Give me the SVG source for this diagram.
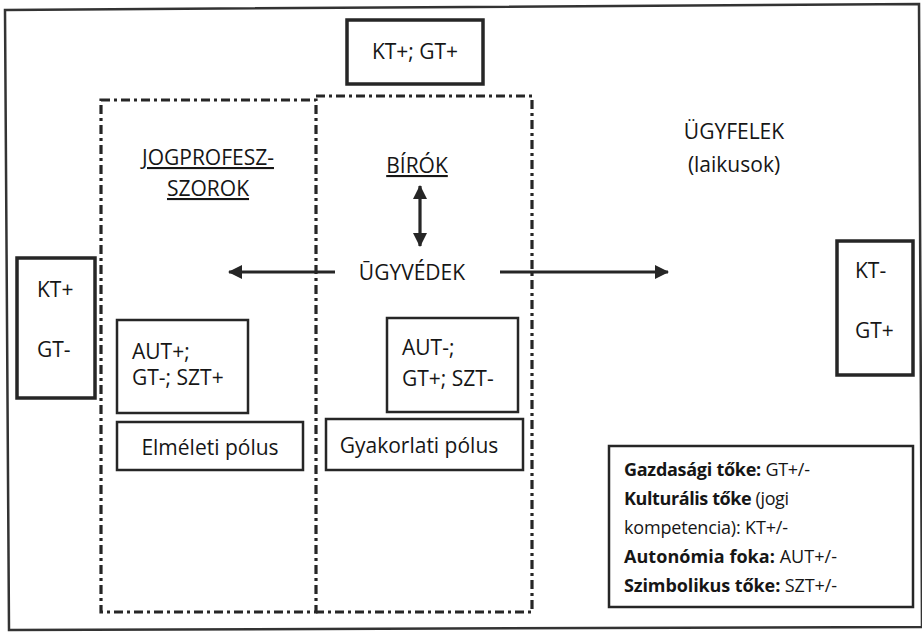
<svg xmlns="http://www.w3.org/2000/svg" width="922" height="633" viewBox="0 0 922 633">
<style>
  text { font-family: "Open Sans", "Noto Sans", "Liberation Sans", sans-serif; fill: #161616; }
  .lbl { font-size: 21px; }
  .box { fill: #fff; stroke: #262626; stroke-width: 2.5; }
  .thick { stroke-width: 3.5; }
  .dash { fill: none; stroke: #262626; stroke-width: 3.2; stroke-dasharray: 9 4 3 4; }
  .arrow { stroke: #262626; stroke-width: 3.2; fill: none; }
  .leg { font-size: 18px; }
  .b { font-weight: bold; }
</style>
<defs>
  <marker id="ah" viewBox="0 0 14 14" refX="13" refY="7" markerWidth="14" markerHeight="14" markerUnits="userSpaceOnUse" orient="auto-start-reverse">
    <path d="M0,0 L14,7 L0,14 Z" fill="#262626"/>
  </marker>
</defs>
<rect x="0" y="0" width="922" height="633" fill="#fff"/>
<polygon id="frame" points="5,10 919,4 922,627 9,630" fill="none" stroke="#333" stroke-width="2.5"/>

<g id="theory-section">
  <rect class="dash" x="101" y="100" width="215" height="512"/>
</g>
<g id="practice-section">
  <path class="dash" d="M316,96 H532 V612 H316"/>
</g>

<g id="top-box">
  <rect class="box thick" x="347" y="20" width="136" height="64"/>
  <text class="lbl" x="415" y="59" text-anchor="middle">KT+; GT+</text>
</g>

<g id="jogprofesszorok">
  <text class="lbl" x="208" y="165" text-anchor="middle" text-decoration="underline">JOGPROFESZ-</text>
  <text class="lbl" x="208" y="196" text-anchor="middle" text-decoration="underline">SZOROK</text>
</g>

<g id="birok">
  <text class="lbl" x="417" y="173" text-anchor="middle" text-decoration="underline">BÍRÓK</text>
</g>

<g id="ugyvedek">
  <text class="lbl" x="412" y="280" text-anchor="middle">ŪGYVÉDEK</text>
</g>

<g id="ugyfelek">
  <text class="lbl" x="734" y="139" text-anchor="middle">ÜGYFELEK</text>
  <text class="lbl" x="734" y="172" text-anchor="middle">(laikusok)</text>
</g>

<g id="left-box">
  <rect class="box thick" x="17" y="258" width="78" height="140"/>
  <text class="lbl" x="37" y="297">KT+</text>
  <text class="lbl" x="37" y="357">GT-</text>
</g>

<g id="right-box">
  <rect class="box thick" x="837" y="241" width="76" height="134"/>
  <text class="lbl" x="855" y="278">KT-</text>
  <text class="lbl" x="855" y="338">GT+</text>
</g>

<g id="aut-plus">
  <rect class="box" x="117" y="320" width="131" height="93"/>
  <text class="lbl" x="132" y="359">AUT+;</text>
  <text class="lbl" x="132" y="385">GT-; SZT+</text>
</g>

<g id="aut-minus">
  <rect class="box" x="387" y="318" width="131" height="94"/>
  <text class="lbl" x="402" y="355">AUT-;</text>
  <text class="lbl" x="402" y="386">GT+; SZT-</text>
</g>

<g id="elmeleti">
  <rect class="box" x="117" y="422" width="186" height="48"/>
  <text class="lbl" x="210" y="455" text-anchor="middle">Elméleti pólus</text>
</g>

<g id="gyakorlati">
  <rect class="box" x="326" y="419" width="197" height="51"/>
  <text class="lbl" x="419" y="453" text-anchor="middle">Gyakorlati pólus</text>
</g>

<g id="legend">
  <rect class="box" x="609" y="446" width="304" height="161"/>
  <text class="leg" x="624" y="476" textLength="186"><tspan class="b">Gazdasági tőke:</tspan> GT+/-</text>
  <text class="leg" x="624" y="505" textLength="165"><tspan class="b">Kulturális tőke</tspan> (jogi</text>
  <text class="leg" x="624" y="534" textLength="164">kompetencia): KT+/-</text>
  <text class="leg" x="624" y="563" textLength="213"><tspan class="b">Autonómia foka:</tspan> AUT+/-</text>
  <text class="leg" x="624" y="592" textLength="213"><tspan class="b">Szimbolikus tőke:</tspan> SZT+/-</text>
</g>

<g id="connectors">
  <line class="arrow" x1="420" y1="186" x2="420" y2="246" marker-start="url(#ah)" marker-end="url(#ah)"/>
  <line class="arrow" x1="335" y1="272" x2="229" y2="272" marker-end="url(#ah)"/>
  <line class="arrow" x1="500" y1="272" x2="668" y2="272" marker-end="url(#ah)"/>
</g>
</svg>
